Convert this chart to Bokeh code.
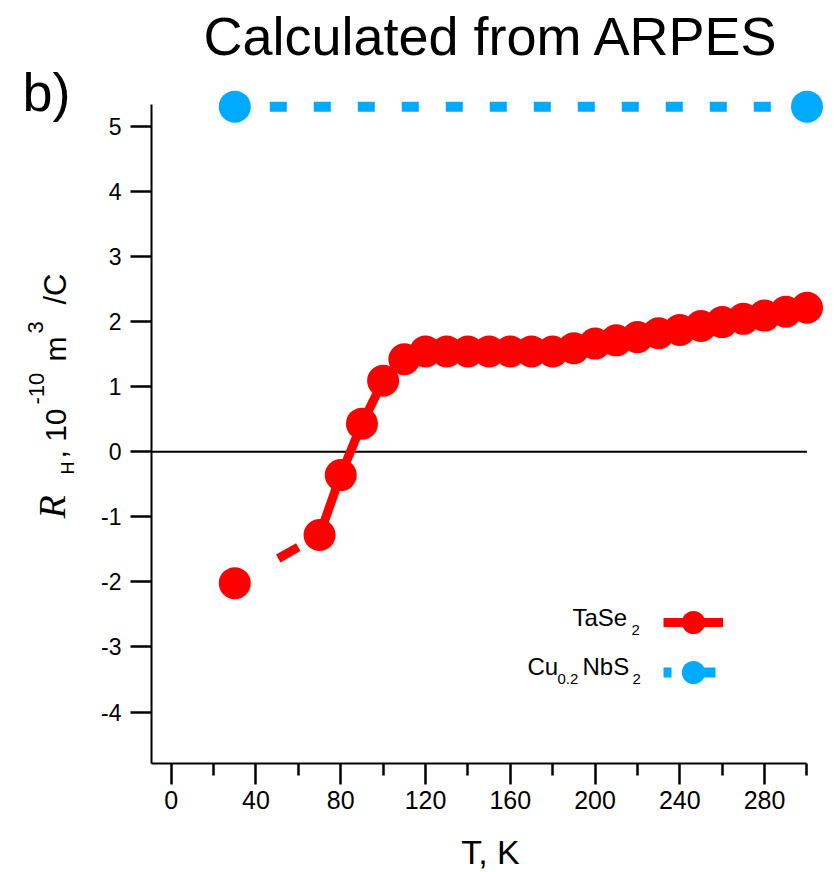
from math import pi
from bokeh.plotting import figure
from bokeh.models import Range1d, FixedTicker, Label, Legend, LegendItem, GridBox
from bokeh.embed import file_html
from bokeh.resources import INLINE

# ---------------- data ----------------
T_TASE2 = [30, 70, 80, 90, 100, 110, 120, 130, 140, 150, 160, 170, 180,
           190, 200, 210, 220, 230, 240, 250, 260, 270, 280, 290, 300]
RH_TASE2 = [-2.02, -1.28, -0.36, 0.43, 1.09, 1.42, 1.54, 1.54, 1.54, 1.54, 1.54, 1.54, 1.54,
            1.59, 1.66, 1.71, 1.76, 1.82, 1.87, 1.93, 1.99, 2.04, 2.09, 2.15, 2.21]
T_CU = [30, 300]
RH_CU = [5.30, 5.30]

X_TICKS = [0, 40, 80, 120, 160, 200, 240, 280]
X_MINOR_TICKS = [20, 60, 100, 140, 180, 220, 260, 300]
Y_TICKS = [-4, -3, -2, -1, 0, 1, 2, 3, 4, 5]
Y_TICK_LABELS = ["-4", "-3", "-2", "-1", "0", "1", "2", "3", "4", "5"]

TITLE = "Calculated from ARPES"
PANEL = "b)"
X_LABEL = "T, K"

RED = "#FF0000"
BLUE = "#00AAFF"
FONT = "Liberation Sans"

W, H = 835, 872
X_START, X_END = -9.3, 307.8
Y_START, Y_END = -4.79, 5.64
X_AXIS_END = max(T_TASE2)
Y_AXIS_TOP = 5.33

# ---------------- main plot ----------------
p = figure(width=W, height=H, output_backend="svg", toolbar_location=None, title=None,
           x_range=Range1d(X_START, X_END), y_range=Range1d(Y_START, Y_END),
           min_border_left=151, min_border_right=12, min_border_top=84, min_border_bottom=109)
p.outline_line_color = None
p.grid.visible = False
p.background_fill_color = "white"
p.border_fill_color = "white"

# zero reference line
p.segment(x0=[X_START], y0=[0], x1=[X_AXIS_END], y1=[0], line_color="black", line_width=2)

# TaSe2: dashed first segment, solid rest
p.line(T_TASE2[:2], RH_TASE2[:2], line_color=RED, line_width=9, line_dash="0 50 23 100")
r_red_line = p.line(T_TASE2[1:], RH_TASE2[1:], line_color=RED, line_width=9, line_join="round")
r_red_pts = p.scatter(T_TASE2, RH_TASE2, size=32, fill_color=RED, line_color=None)

# Cu0.2NbS2
r_blue_line = p.line(T_CU, RH_CU, line_color=BLUE, line_width=10, line_dash="8 27 9 0")
r_blue_pts = p.scatter(T_CU, RH_CU, size=32, fill_color=BLUE, line_color=None)

# axes
xa = p.xaxis[0]
xa.ticker = FixedTicker(ticks=X_TICKS, minor_ticks=X_MINOR_TICKS)
xa.bounds = (X_START, X_AXIS_END)
xa.axis_line_width = 2
xa.major_tick_line_width = 2.5
xa.minor_tick_line_width = 2.5
xa.major_tick_out = 21
xa.major_tick_in = 0
xa.minor_tick_out = 12
xa.minor_tick_in = 0
xa.major_label_text_font = FONT
xa.major_label_text_font_size = "25px"
xa.major_label_text_color = "black"
xa.major_label_standoff = 6

ya = p.yaxis[0]
ya.ticker = FixedTicker(ticks=Y_TICKS, minor_ticks=[])
ya.major_label_overrides = {t: s for t, s in zip(Y_TICKS, Y_TICK_LABELS)}
ya.bounds = (Y_START, Y_AXIS_TOP)
ya.axis_line_width = 2
ya.major_tick_line_width = 2.5
ya.major_tick_out = 21
ya.major_tick_in = 0
ya.minor_tick_out = 0
ya.minor_tick_in = 0
ya.major_label_text_font = FONT
ya.major_label_text_font_size = "23px"
ya.major_label_text_color = "black"
ya.major_label_standoff = 9

FL, FB = 151, 763  # main frame left / bottom in canvas pixels

# legend samples (glyph-only legends; texts are drawn on the text layer)
for rends, cy in (([r_red_line, r_red_pts], 622), ([r_blue_line, r_blue_pts], 672)):
    leg = Legend(items=[LegendItem(label=" ", renderers=rends)],
                 location=(663 - FL, FB - (cy + 29)),
                 glyph_width=60, glyph_height=58, padding=0, margin=0, spacing=0,
                 label_standoff=0, label_width=1, label_height=1,
                 border_line_color=None, background_fill_alpha=0,
                 label_text_font_size="1px")
    p.add_layout(leg)

# ---------------- transparent text layer covering the whole canvas ----------------
t = figure(width=W, height=H, output_backend="svg", toolbar_location=None, title=None,
           x_axis_location=None, y_axis_location=None, min_border=0,
           x_range=Range1d(0, W), y_range=Range1d(0, H))
t.outline_line_color = None
t.background_fill_alpha = 0
t.border_fill_alpha = 0
t.grid.visible = False

for fig in (p, t):
    if "frame_align" in fig.properties():
        fig.frame_align = False

BASE_SHIFT = 0.40  # rendered baseline sits this many em below the anchor


def lab(text, cx, cy, size, align="left", angle=0.0, font=FONT, style="normal"):
    # (cx, cy): desired baseline position in canvas pixels (top-left origin)
    if angle:
        ax, ay = cx - BASE_SHIFT * size, cy
    else:
        ax, ay = cx, cy - BASE_SHIFT * size
    t.add_layout(Label(x=ax, y=H - ay, x_units="screen", y_units="screen",
                       text=text, text_font=font, text_font_size=f"{size}px",
                       text_font_style=style, text_color="black", text_align=align,
                       text_baseline="alphabetic", angle=angle))


lab(TITLE, 491, 57, 54, align="center")
lab(PANEL, 22, 113, 54)
lab(X_LABEL, 490, 865, 34, align="center")

# y-axis label: R_H, 10^-10 m^3/C (rotated, reads bottom to top)
A = pi / 2
lab("R", 67, 518, 38, angle=A, font="Liberation Serif", style="italic")
lab("H", 75, 474, 18, angle=A)
lab(", 10", 67, 458, 30, angle=A)
lab("-10", 45, 404, 22, angle=A)
lab("m", 67, 361, 30, angle=A)
lab("3", 44, 333, 22, angle=A)
lab("/C", 67, 304, 31, angle=A)

# legend text
lab("TaSe", 572, 627, 24)
lab("2", 631, 635, 15)
lab("Cu", 527, 676, 24)
lab("0.2", 557, 684, 15)
lab("NbS", 582, 676, 24)
lab("2", 632, 684, 15)

layout = GridBox(children=[(p, 0, 0), (t, 0, 0)])
open("out.html", "w").write(file_html(layout, INLINE))
